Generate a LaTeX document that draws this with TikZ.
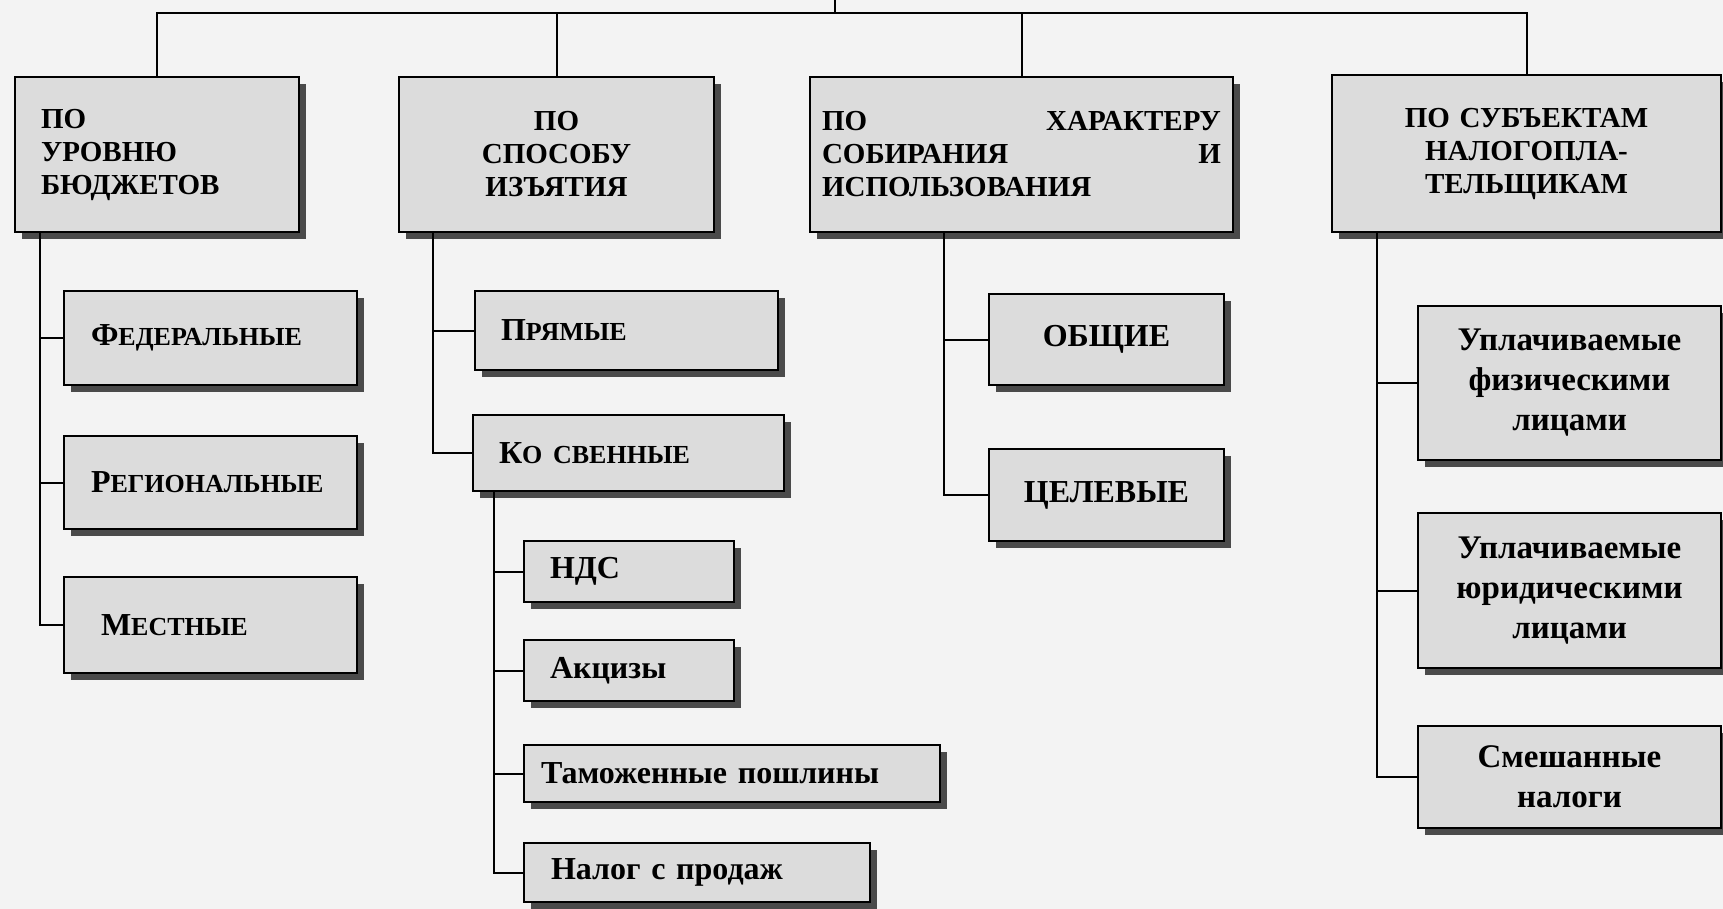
\documentclass[tikz,border=0pt]{standalone}
\usepackage{fontspec}
\setmainfont{Liberation Serif}
\usepackage{xcolor}
\usetikzlibrary{shadows}

\definecolor{bggray}{HTML}{F3F3F3}
\definecolor{boxgray}{HTML}{DCDCDC}
\definecolor{shadowgray}{HTML}{4A4A4A}

% first letter full size, the rest as smaller capitals
\newcommand{\fakesc}[2]{#1{\fontsize{26}{30}\selectfont #2}}

\begin{document}
\begin{tikzpicture}[
    x=1pt, y=-1pt,
    box/.style={rectangle, draw=black, line width=1.8pt, fill=boxgray, inner ysep=0pt,
                drop shadow={shadow xshift=7pt, shadow yshift=-7pt, fill=shadowgray, opacity=1}},
    head/.style={box, minimum height=155pt, font=\bfseries\fontsize{29}{33}\selectfont},
    item/.style={box, font=\bfseries\fontsize{32}{39}\selectfont},
    link/.style={draw=black, line width=2pt}
]
\clip (0,0) rectangle (1723,909);
\fill[bggray] (0,0) rectangle (1723,909);

% top row
\node[head, text width=232pt, inner xsep=26pt, align=left] (byLevel) at (157,154.5) {ПО\\УРОВНЮ\\БЮДЖЕТОВ};
\node[head, text width=295pt, inner xsep=10pt, align=center] (byMethod) at (556.5,154.5) {ПО\\СПОСОБУ\\ИЗЪЯТИЯ};
\node[head, text width=399pt, inner xsep=12pt, align=left] (byPurpose) at (1021.5,154.5) {ПО\hfill ХАРАКТЕРУ\\СОБИРАНИЯ\hfill И\\ИСПОЛЬЗОВАНИЯ};
\node[head, text width=369pt, inner xsep=10pt, align=center, minimum height=157pt] (bySubject) at (1526.5,153.5) {ПО СУБЪЕКТАМ\\НАЛОГОПЛА-\\ТЕЛЬЩИКАМ};

% by budget level
\node[item, text width=239pt, inner xsep=27pt, align=left, minimum height=94pt] (federal) at (210.5,338) {\fakesc{Ф}{ЕДЕРАЛЬНЫЕ}};
\node[item, text width=239pt, inner xsep=27pt, align=left, minimum height=93pt] (regional) at (210.5,482.5) {\fakesc{Р}{ЕГИОНАЛЬНЫЕ}};
\node[item, text width=239pt, inner xsep=27pt, align=left, minimum height=96pt] (local) at (210.5,625) {\hspace{10pt}\fakesc{М}{ЕСТНЫЕ}};

% by method
\node[item, text width=251pt, inner xsep=26pt, align=left, minimum height=79pt] (direct) at (626.5,330.5) {\fakesc{П}{РЯМЫЕ}};
\node[item, text width=259pt, inner xsep=26pt, align=left, minimum height=76pt] (indirect) at (628.5,453) {\fakesc{К}{О СВЕННЫЕ}};
\node[item, text width=158pt, inner xsep=26pt, align=left, minimum height=61pt] (vat) at (629,571.5) {НДС};
\node[item, text width=158pt, inner xsep=26pt, align=left, minimum height=61pt] (excise) at (629,670.5) {Акцизы};
\node[item, text width=382pt, inner xsep=17pt, align=left, minimum height=57pt] (customs) at (732,773.5) {Таможенные пошлины};
\node[item, text width=292pt, inner xsep=27pt, align=left, minimum height=59pt] (salesTax) at (697,872.5) {Налог с продаж};

% by purpose
\node[item, text width=215pt, inner xsep=10pt, align=center, minimum height=91pt] (general) at (1106.5,339.5) {ОБЩИЕ};
\node[item, text width=215pt, inner xsep=10pt, align=center, minimum height=92pt] (target) at (1106.5,495) {ЦЕЛЕВЫЕ};

% by taxpayer
\node[item, text width=283pt, inner xsep=10pt, align=center, minimum height=154pt, font=\bfseries\fontsize{33}{40}\selectfont] (physical) at (1569.5,383) {Уплачиваемые\\физическими\\лицами};
\node[item, text width=283pt, inner xsep=10pt, align=center, minimum height=155pt, font=\bfseries\fontsize{33}{40}\selectfont] (legal) at (1569.5,590.5) {Уплачиваемые\\юридическими\\лицами};
\node[item, text width=283pt, inner xsep=10pt, align=center, minimum height=102pt, font=\bfseries\fontsize{33}{40}\selectfont] (mixed) at (1569.5,777) {Смешанные\\налоги};

% top bus
\coordinate (root) at (835,0);
\coordinate (bus) at (835,13);
\draw[link] (root) -- (bus);
\draw[link] (byLevel.north) |- (bus) -| (bySubject.north);
\draw[link] (byMethod.north) -- (byMethod.north |- bus);
\draw[link] (byPurpose.north) -- (byPurpose.north |- bus);

% spines
\coordinate (spA) at ([xshift=26pt]byLevel.south west);
\coordinate (spB) at ([xshift=35pt]byMethod.south west);
\coordinate (spK) at ([xshift=22pt]indirect.south west);
\coordinate (spC) at ([xshift=135pt]byPurpose.south west);
\coordinate (spD) at ([xshift=46pt]bySubject.south west);

\draw[link] (spA) |- (local.west);
\foreach \n in {federal,regional}
  \draw[link] (spA |- \n.west) -- (\n.west);
\draw[link] (spB) |- (indirect.west);
\draw[link] (spB |- direct.west) -- (direct.west);
\draw[link] (spK) |- (salesTax.west);
\foreach \n in {vat,excise,customs}
  \draw[link] (spK |- \n.west) -- (\n.west);
\draw[link] (spC) |- (target.west);
\draw[link] (spC |- general.west) -- (general.west);
\draw[link] (spD) |- (mixed.west);
\foreach \n in {physical,legal}
  \draw[link] (spD |- \n.west) -- (\n.west);
\end{tikzpicture}
\end{document}
